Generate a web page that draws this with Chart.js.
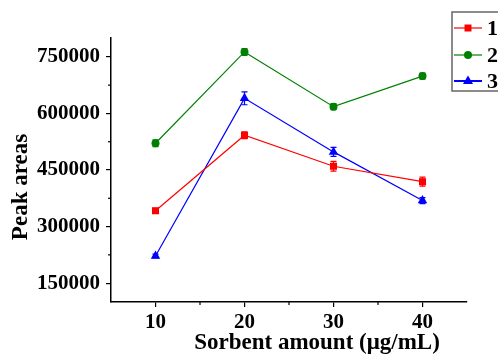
<!DOCTYPE html>
<html>
<head>
<meta charset="utf-8">
<script src="https://cdn.jsdelivr.net/npm/chart.js@4.4.1/dist/chart.umd.min.js"></script>
<style>
  html, body { margin: 0; padding: 0; background: #fff; }
  #wrap { width: 498px; height: 361px; }
</style>
</head>
<body>
<div id="wrap"><canvas id="chart" width="498" height="361"></canvas></div>
<script>
// Data
const amounts = [10, 20, 30, 40];
const series1 = [342000, 542000, 460000, 419000];
const series2 = [521000, 763000, 618000, 699000];
const series3 = [222000, 640000, 498000, 369000];
const errors1 = [5000, 9000, 13000, 12000];
const errors2 = [9000, 9000, 8000, 8000];
const errors3 = [5000, 17000, 12000, 8000];
const xTicks = [10, 20, 30, 40];
const xMinorTicks = [15, 25, 35];
const yTicks = [150000, 300000, 450000, 600000, 750000];
const yMinorTicks = [225000, 375000, 525000, 675000];
const seriesNames = ['1', '2', '3'];

const FONT = '"Liberation Serif", "Times New Roman", serif';

function toPoints(values) {
    return amounts.map((x, i) => ({ x: x, y: values[i] }));
}

// Error bars, drawn behind the markers
const errorBars = {
    id: 'errorBars',
    beforeDatasetsDraw(chart) {
        const ctx = chart.ctx;
        const xs = chart.scales.x, ys = chart.scales.y;
        chart.data.datasets.forEach(ds => {
            ctx.save();
            ctx.strokeStyle = ds.borderColor;
            ctx.lineWidth = 1.2;
            ds.data.forEach((p, i) => {
                const e = ds.errors[i];
                const px = xs.getPixelForValue(p.x);
                const top = ys.getPixelForValue(p.y + e);
                const bot = ys.getPixelForValue(p.y - e);
                ctx.beginPath();
                ctx.moveTo(px, top); ctx.lineTo(px, bot);
                ctx.moveTo(px - 3, top); ctx.lineTo(px + 3, top);
                ctx.moveTo(px - 3, bot); ctx.lineTo(px + 3, bot);
                ctx.stroke();
            });
            ctx.restore();
        });
    }
};

// Minor ticks, axis titles and the boxed legend
const decorations = {
    id: 'decorations',
    afterDraw(chart) {
        const ctx = chart.ctx;
        const xs = chart.scales.x, ys = chart.scales.y;
        const area = chart.chartArea;
        ctx.save();
        ctx.strokeStyle = '#000';
        ctx.lineWidth = 1.2;
        yMinorTicks.forEach(v => {
            const py = ys.getPixelForValue(v);
            ctx.beginPath(); ctx.moveTo(area.left - 3, py); ctx.lineTo(area.left, py); ctx.stroke();
        });
        xMinorTicks.forEach(v => {
            const px = xs.getPixelForValue(v);
            ctx.beginPath(); ctx.moveTo(px, area.bottom); ctx.lineTo(px, area.bottom + 3); ctx.stroke();
        });

        ctx.fillStyle = '#000';
        ctx.font = 'bold 23px ' + FONT;
        ctx.textAlign = 'center';
        ctx.textBaseline = 'middle';
        ctx.fillText('Sorbent amount (μg/mL)', 317, 343);

        ctx.save();
        ctx.translate(21, 187);
        ctx.rotate(-Math.PI / 2);
        ctx.fillText('Peak areas', 0, 0);
        ctx.restore();

        // legend box
        ctx.strokeStyle = '#666';
        ctx.lineWidth = 1.5;
        ctx.strokeRect(452, 12, 60, 79);
        const rows = [28, 55, 81];
        chart.data.datasets.forEach((ds, i) => {
            const y = rows[i];
            ctx.strokeStyle = ds.borderColor;
            ctx.lineWidth = i === 2 ? 2 : 1.2;
            ctx.beginPath(); ctx.moveTo(454, y); ctx.lineTo(482, y); ctx.stroke();
            ctx.fillStyle = ds.borderColor;
            ctx.beginPath();
            if (i === 0) {
                ctx.rect(464.5, y - 3.5, 7, 7);
            } else if (i === 1) {
                ctx.arc(468, y, 4, 0, Math.PI * 2);
            } else {
                ctx.moveTo(468, y - 5.5); ctx.lineTo(473, y + 3); ctx.lineTo(463, y + 3); ctx.closePath();
            }
            ctx.fill();
            ctx.fillStyle = '#000';
            ctx.font = 'bold 22px ' + FONT;
            ctx.textAlign = 'left';
            ctx.fillText(seriesNames[i], 487, y + 1);
        });
        ctx.restore();
    }
};

new Chart(document.getElementById('chart'), {
    type: 'line',
    data: {
        datasets: [
            {
                label: seriesNames[0], data: toPoints(series1), errors: errors1,
                borderColor: '#ff0000', backgroundColor: '#ff0000',
                borderWidth: 1.2, pointStyle: 'rect', pointRadius: 5, pointBorderWidth: 0
            },
            {
                label: seriesNames[1], data: toPoints(series2), errors: errors2,
                borderColor: '#008000', backgroundColor: '#008000',
                borderWidth: 1.2, pointStyle: 'circle', pointRadius: 4, pointBorderWidth: 0
            },
            {
                label: seriesNames[2], data: toPoints(series3), errors: errors3,
                borderColor: '#0000ff', backgroundColor: '#0000ff',
                borderWidth: 1.2, pointStyle: 'triangle', pointRadius: 5.5, pointBorderWidth: 0
            }
        ]
    },
    options: {
        responsive: false,
        animation: false,
        layout: { padding: { top: 38, right: 31, left: 0, bottom: 0 } },
        plugins: {
            legend: { display: false },
            tooltip: { enabled: false }
        },
        scales: {
            x: {
                type: 'linear',
                min: 5, max: 45,
                afterBuildTicks: s => { s.ticks = xTicks.map(v => ({ value: v })); },
                afterFit: s => { s.height = 59; },
                grid: { drawOnChartArea: false, drawTicks: true, tickLength: 5, color: '#000', lineWidth: 1.2 },
                border: { display: true, color: '#000', width: 1.5 },
                ticks: { color: '#000', padding: 3, font: { family: FONT, size: 21, weight: 'bold' } }
            },
            y: {
                min: 100000, max: 800000,
                afterBuildTicks: s => { s.ticks = yTicks.map(v => ({ value: v })); },
                afterFit: s => { s.width = 111; },
                grid: { drawOnChartArea: false, drawTicks: true, tickLength: 5, color: '#000', lineWidth: 1.2 },
                border: { display: true, color: '#000', width: 1.5 },
                ticks: {
                    color: '#000', padding: 6, font: { family: FONT, size: 21, weight: 'bold' },
                    callback: v => String(v)
                }
            }
        }
    },
    plugins: [errorBars, decorations]
});
</script>
</body>
</html>
